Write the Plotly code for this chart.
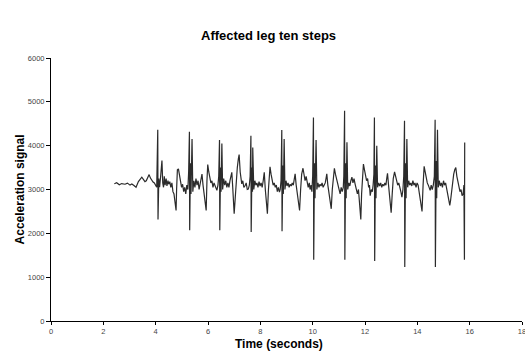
import plotly.graph_objects as go

# Time (s) and acceleration readings
time_s = [
    2.42, 2.51, 2.61, 2.70, 2.83, 2.92, 3.02, 3.09, 3.17, 3.25, 3.34, 3.40, 3.47, 3.53, 3.59, 3.64,
    3.70, 3.75, 3.80, 3.85, 3.90, 3.95, 4.00, 4.04,
    4.08, 4.09, 4.12, 4.15, 4.19, 4.24, 4.27, 4.30, 4.33, 4.36, 4.40, 4.43, 4.47, 4.50, 4.54, 4.58,
    4.62, 4.66, 4.70, 4.74, 4.78, 4.80, 4.83, 4.87, 4.91, 4.95, 4.99, 5.03, 5.07, 5.11, 5.15, 5.19,
    5.23, 5.26,
    5.29, 5.30, 5.33, 5.35, 5.39, 5.42, 5.46, 5.50, 5.54, 5.58, 5.62, 5.66, 5.70, 5.74, 5.77, 5.81,
    5.85, 5.89, 5.93, 5.96, 5.99, 6.03, 6.07, 6.11, 6.15, 6.19, 6.23, 6.27, 6.31, 6.34, 6.38, 6.41,
    6.44, 6.45, 6.48, 6.50, 6.53, 6.56, 6.60, 6.64, 6.68, 6.72, 6.76, 6.80, 6.84, 6.88, 6.91, 6.94,
    6.97, 7.00, 7.04, 7.08, 7.12, 7.16, 7.19, 7.23, 7.26, 7.29, 7.33, 7.37, 7.42, 7.46, 7.50, 7.54,
    7.58, 7.61,
    7.64, 7.65, 7.68, 7.70, 7.71, 7.75, 7.79, 7.83, 7.87, 7.91, 7.95, 7.99, 8.03, 8.07, 8.11, 8.15,
    8.19, 8.23, 8.27, 8.31, 8.34, 8.37, 8.41, 8.45, 8.49, 8.53, 8.57, 8.61, 8.65, 8.69, 8.73, 8.76,
    8.79,
    8.82, 8.83, 8.86, 8.88, 8.91, 8.94, 8.98, 9.02, 9.06, 9.10, 9.14, 9.18, 9.22, 9.26, 9.30, 9.33,
    9.37, 9.41, 9.45, 9.50, 9.54, 9.58, 9.63, 9.67, 9.71, 9.75, 9.79, 9.83, 9.87, 9.90, 9.94, 9.97,
    10.00,
    10.03, 10.04, 10.07, 10.09, 10.13, 10.16, 10.20, 10.24, 10.28, 10.32, 10.36, 10.40, 10.44, 10.48,
    10.51, 10.54, 10.58, 10.62, 10.66, 10.71, 10.75, 10.79, 10.83, 10.87, 10.91, 10.95, 10.99, 11.02,
    11.05, 11.09, 11.13, 11.17, 11.19,
    11.22, 11.23, 11.26, 11.28, 11.31, 11.34, 11.38, 11.42, 11.46, 11.50, 11.54, 11.58, 11.62, 11.66,
    11.71, 11.75, 11.79, 11.84, 11.87, 11.91, 11.94, 11.98, 12.02, 12.06, 12.10, 12.14, 12.17, 12.20,
    12.24, 12.28, 12.31, 12.34,
    12.36, 12.37, 12.40, 12.42, 12.45, 12.48, 12.52, 12.56, 12.60, 12.64, 12.68, 12.72, 12.76, 12.80,
    12.83, 12.86, 12.90, 12.93, 12.97, 13.00, 13.04, 13.08, 13.13, 13.17, 13.21, 13.25, 13.29, 13.33,
    13.37, 13.41, 13.45, 13.48,
    13.51, 13.52, 13.55, 13.57, 13.60, 13.63, 13.67, 13.71, 13.75, 13.79, 13.83, 13.87, 13.91, 13.95,
    13.99, 14.03, 14.07, 14.11, 14.15, 14.18, 14.22, 14.26, 14.30, 14.34, 14.38, 14.42, 14.46, 14.49,
    14.53, 14.57, 14.61, 14.65,
    14.68, 14.69, 14.72, 14.74, 14.77, 14.80, 14.84, 14.88, 14.92, 14.96, 15.00, 15.04, 15.08, 15.12,
    15.16, 15.20, 15.24, 15.27, 15.31, 15.35, 15.39, 15.43, 15.47, 15.51, 15.55, 15.59, 15.63, 15.67,
    15.71, 15.75, 15.78,
    15.80, 15.81,
]

acceleration = [
    3130, 3155, 3110, 3135, 3120, 3145, 3100, 3125, 3090, 3050, 3180, 3230, 3280, 3230, 3180, 3200,
    3290, 3340, 3260, 3200, 3170, 3150, 3110, 3050,
    4364, 2318, 3250, 3050, 3300, 3660, 3150, 3050, 3300, 3100, 3250, 3080, 3200, 3120, 3180, 3050,
    3150, 2950, 2900, 2750, 2520, 3000, 3450, 3470, 3300, 3150, 3050, 3120, 2950, 3050, 2900, 3100,
    3000, 3400,
    4318, 2068, 3600, 2900, 4150, 2950, 3200, 3050, 3250, 3100, 3200, 3000, 3150, 3250, 3350, 3100,
    2900, 2700, 2520, 3200, 3570, 3400, 3250, 3150, 3200, 3050, 3150, 3090, 3000, 2980, 3100, 3300,
    4130, 2068, 3500, 2950, 4050, 3000, 3250, 3100, 3200, 3050, 3150, 3050, 3200, 3300, 3390, 3100,
    2700, 2450, 2800, 3300, 3500, 3700, 3795, 3400, 3200, 3130, 3200, 3050, 3090, 3150, 3000, 3010,
    3100, 3300,
    4227, 2030, 3500, 2950, 3960, 3000, 3200, 3100, 3150, 3050, 3180, 3080, 3150, 3050, 3200, 3390,
    3000, 2700, 2450, 3000, 3400, 3520, 3350, 3200, 3100, 3150, 3050, 3100, 2950, 3050, 2940, 3000,
    3200,
    4360, 2050, 3550, 2900, 4150, 3000, 3200, 3080, 3150, 3050, 3120, 3080, 3150, 3100, 3250, 3356,
    3100, 2900, 2700, 2520, 3000, 3350, 3485, 3300, 3200, 3300, 3150, 3050, 3150, 3000, 3100, 2950,
    3300,
    4643, 1400, 3600, 2800, 4130, 3000, 3150, 3050, 3120, 3080, 3150, 3050, 3100, 3150,
    3250, 3356, 3100, 2900, 2750, 2560, 3000, 3350, 3485, 3350, 3200, 3150, 3050, 2950,
    2900, 3050, 2950, 3050, 3300,
    4795, 1400, 3600, 2800, 4075, 3000, 3150, 3080, 3200, 3280, 3150, 3250, 3130, 3050,
    2900, 3000, 2700, 2318, 2900, 3400, 3580, 3450, 3300, 3200, 3250, 3050, 3100, 2860,
    3000, 2950, 3100, 3350,
    4643, 1370, 3550, 2800, 4000, 3050, 3150, 3080, 3150, 3050, 3120, 3080, 3150, 3100,
    3250, 3370, 3100, 2850, 2650, 2470, 2900, 3250, 3400, 3300, 3200, 3100, 3150, 3000,
    2950, 2825, 3000, 3300,
    4568, 1234, 3600, 2800, 4150, 3050, 3200, 3100, 3150, 3080, 3200, 3100, 3150, 3050,
    3150, 3100, 2950, 2785, 2650, 2500, 3100, 3530, 3400, 3250, 3150, 3100, 3000, 2980,
    3100, 3000, 3100, 3300,
    4590, 1234, 3650, 2800, 4364, 3050, 3200, 3080, 3150, 3050, 3200, 3100, 3150, 3000,
    2950, 2800, 2636, 2750, 3000, 3100, 3350, 3450, 3500, 3300, 3150, 3050, 2950, 3000,
    2860, 2900, 3100,
    1400, 4075,
]

x_ticks = [0, 2, 4, 6, 8, 10, 12, 14, 16, 18]
y_ticks = [0, 1000, 2000, 3000, 4000, 5000, 6000]

FONT = "Liberation Sans, Arial, sans-serif"

fig = go.Figure()
fig.add_trace(go.Scatter(
    x=time_s, y=acceleration, mode="lines",
    line=dict(color="#2b2b2b", width=1.2),
    showlegend=False, hoverinfo="skip",
))

tick_font = dict(family=FONT, size=7.5, color="#444444")

fig.update_layout(
    width=525, height=352,
    margin=dict(l=51, r=3, t=58, b=31),
    paper_bgcolor="white", plot_bgcolor="white",
    annotations=[
        dict(text="<b>Affected leg ten steps</b>", xref="paper", yref="paper",
             x=0.461, y=1.087, xanchor="center", yanchor="middle", showarrow=False,
             font=dict(family=FONT, size=13, color="#000000")),
        dict(text="<b>Time (seconds)</b>", xref="paper", yref="paper",
             x=0.484, y=-0.087, xanchor="center", yanchor="middle", showarrow=False,
             font=dict(family=FONT, size=12, color="#000000")),
        dict(text="<b>Acceleration signal</b>", xref="paper", yref="paper",
             x=-0.066, y=0.5, xanchor="center", yanchor="middle", showarrow=False,
             textangle=-90, font=dict(family=FONT, size=12, color="#000000")),
    ],
)
fig.update_xaxes(
    range=[0, 18], tickvals=x_ticks, ticktext=[str(v) for v in x_ticks],
    showgrid=False, zeroline=False, automargin=False, ticklabeloverflow="allow",
    showline=True, linecolor="#000000", linewidth=1,
    ticks="outside", ticklen=3, tickcolor="#000000", tickwidth=1,
    tickfont=tick_font,
)
fig.update_yaxes(
    range=[0, 6000], tickvals=y_ticks, ticktext=[str(v) for v in y_ticks],
    showgrid=False, zeroline=False, automargin=False,
    showline=True, linecolor="#000000", linewidth=1,
    ticks="outside", ticklen=4, tickcolor="#000000", tickwidth=1,
    tickfont=tick_font,
)

fig.write_html(
    "out.html",
    config={"displayModeBar": False},
    post_script="document.body.style.margin='0';document.body.style.overflow='hidden';",
)
